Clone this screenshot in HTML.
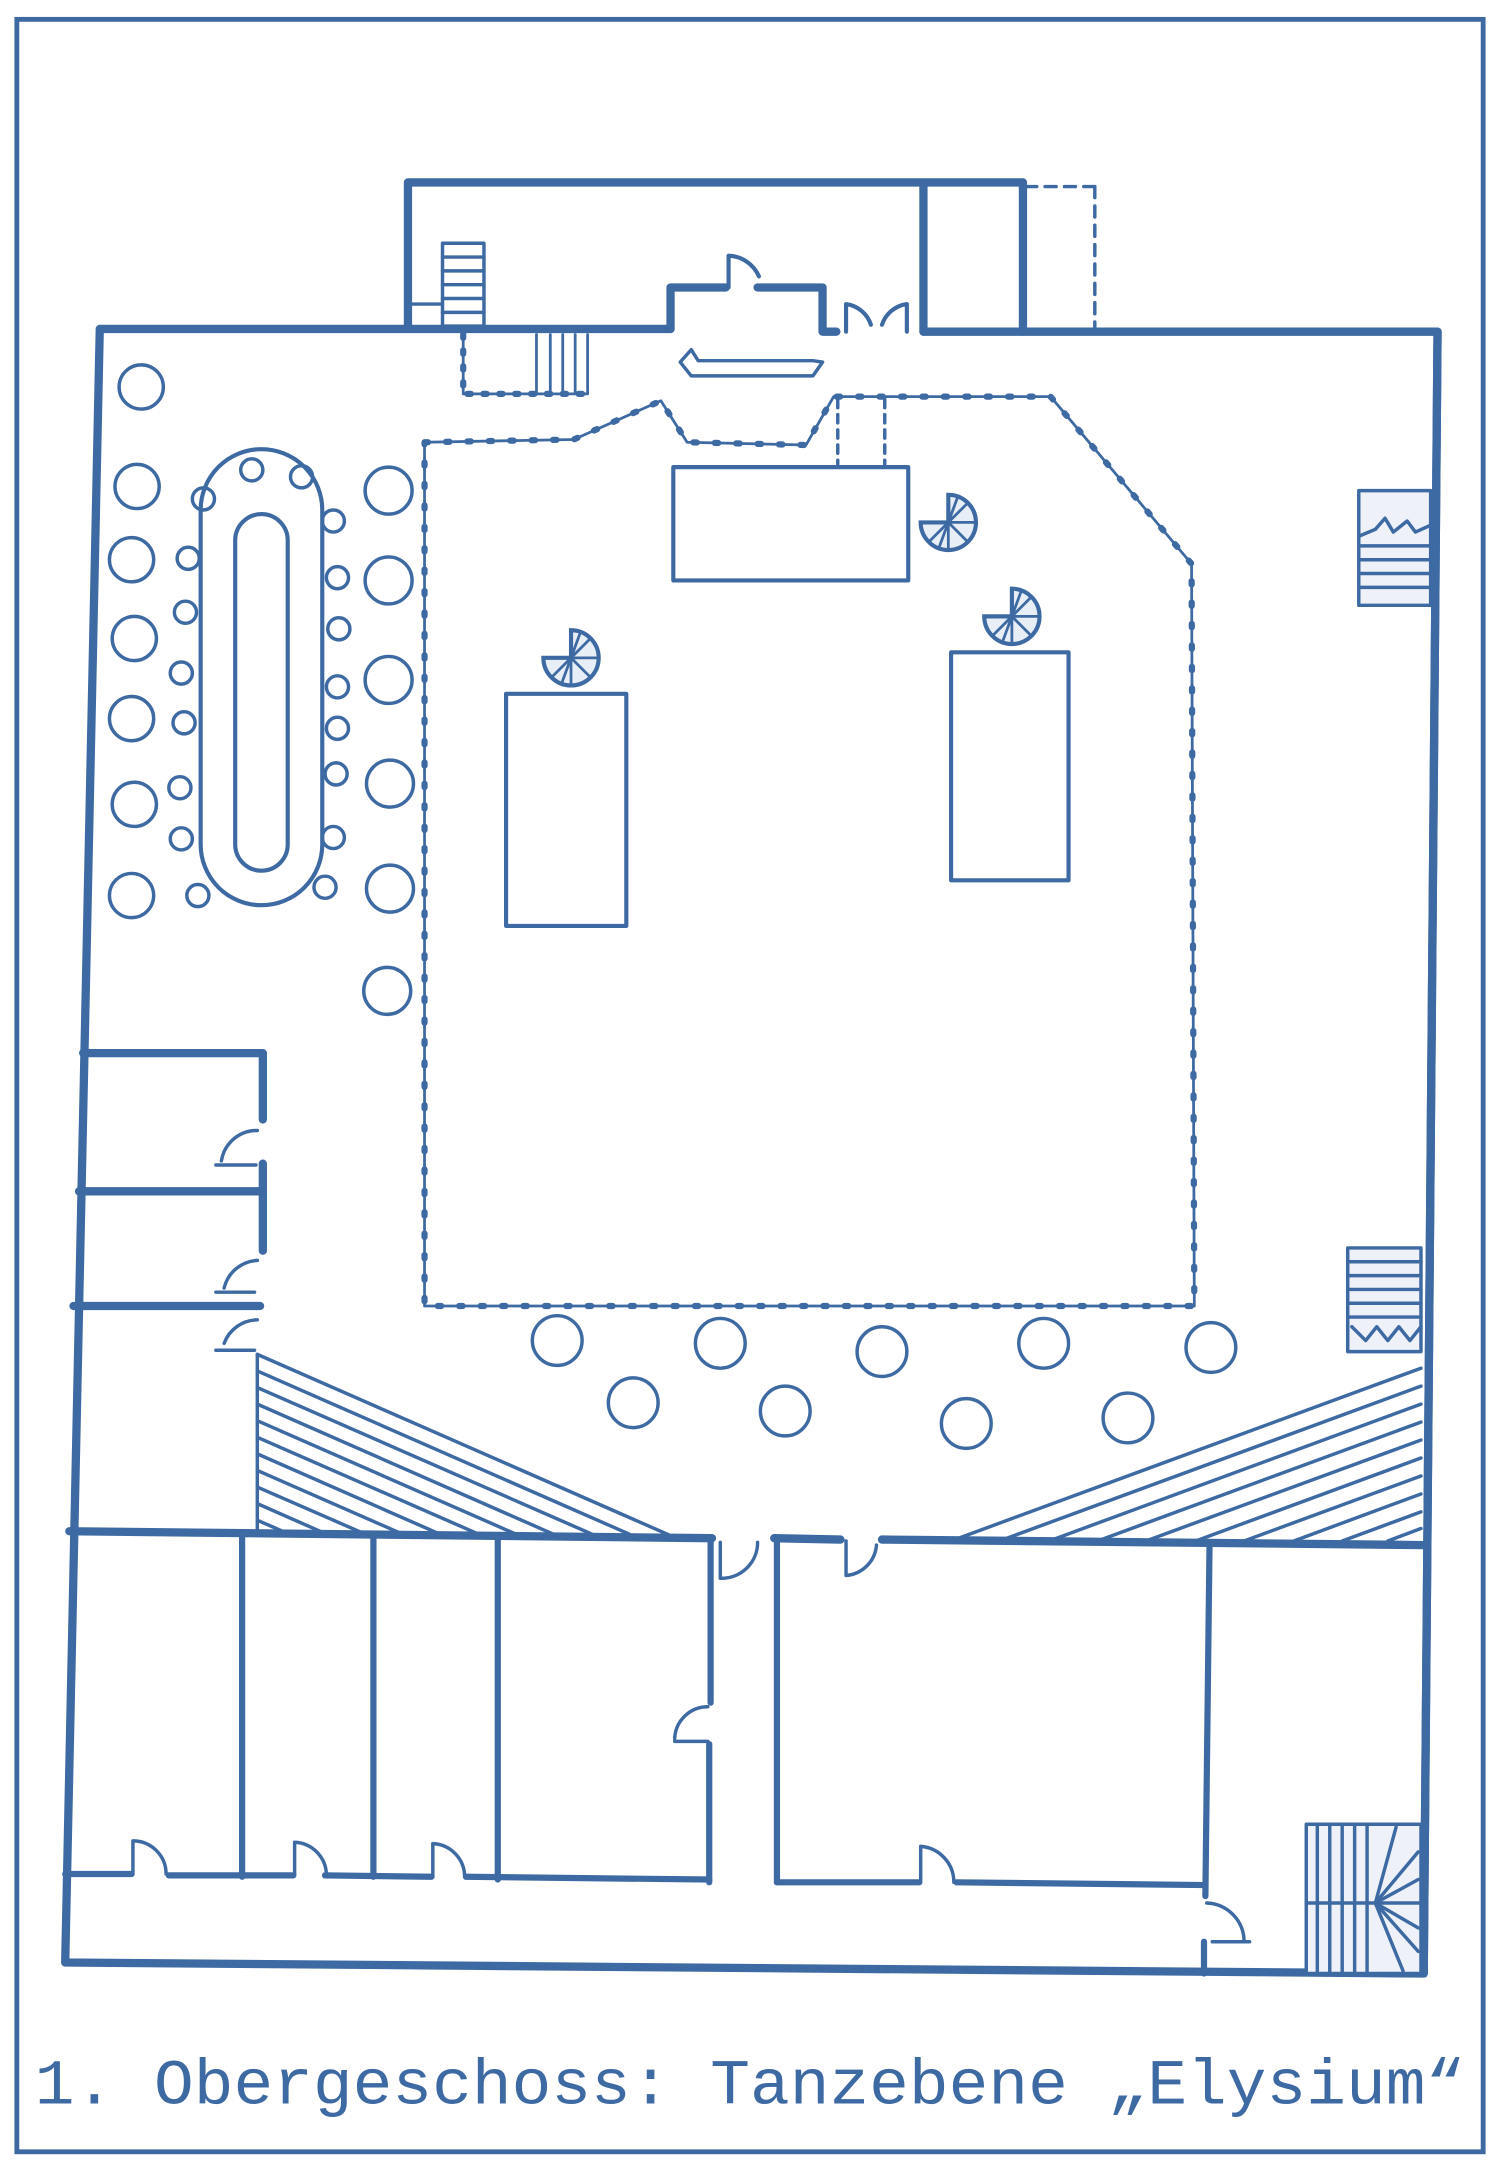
<!DOCTYPE html>
<html><head><meta charset="utf-8"><style>
html,body{margin:0;padding:0;background:#fff;}
svg{display:block;}
</style></head><body>
<svg width="1500" height="2167" viewBox="0 0 1085 1568" xmlns="http://www.w3.org/2000/svg">
<defs>
<g id="sp">
<path d="M0,0 L0,-20 A20,20 0 1 1 -20,0 Z" fill="#e8eef6" stroke="#3e6aa3" stroke-width="3"/>
<g stroke="#3e6aa3" stroke-width="2">
<line x1="0" y1="0" x2="14" y2="-14"/><line x1="0" y1="0" x2="20" y2="0"/><line x1="0" y1="0" x2="14" y2="14"/><line x1="0" y1="0" x2="0" y2="20"/><line x1="0" y1="0" x2="-14" y2="14"/><line x1="0" y1="0" x2="7" y2="-19"/><line x1="0" y1="0" x2="-7" y2="19"/>
</g></g>
</defs>
<rect x="0" y="0" width="1085" height="1568" fill="#fff"/>
<rect x="12" y="14" width="1061" height="1543" fill="none" stroke="#3e6aa3" stroke-width="3.5"/>
<g fill="none" stroke="#3e6aa3" stroke-linecap="round" stroke-linejoin="round">
<g stroke-width="6">
<polyline points="485,238 72,238 47,1420 1030,1428 1040,240 668,240"/>
<polyline points="485,238 485,208 525,208"/>
<polyline points="548,208 595,208 595,240 605,240"/>
<polyline points="295,238 295,132 740,132 740,240"/>
<line x1="668" y1="135" x2="668" y2="240"/>
<polyline points="60,762 190,762 190,810"/>
<line x1="190" y1="842" x2="190" y2="862"/>
<polyline points="57,862 190,862 190,905"/>
<line x1="53" y1="945" x2="188" y2="945"/>
<line x1="50" y1="1108" x2="515" y2="1113"/>
<line x1="560" y1="1113" x2="608" y2="1114"/>
<line x1="638" y1="1114" x2="1030" y2="1118"/>
</g>
<line x1="742" y1="135" x2="792" y2="135" stroke-width="2.5" stroke-dasharray="8,6"/>
<line x1="792" y1="135" x2="792" y2="240" stroke-width="2.5" stroke-dasharray="8,6"/>
<g stroke-width="3">
<path d="M612,240 V220 A22,22 0 0 1 630,235"/>
<path d="M656,240 V220 A22,22 0 0 0 638,235"/>
<path d="M527,208 V185 A25,25 0 0 1 549,200"/>
</g>
<g stroke-width="4.5">
<line x1="175" y1="1110" x2="175" y2="1358"/>
<line x1="270" y1="1110" x2="270" y2="1358"/>
<line x1="360" y1="1111" x2="360" y2="1360"/>
<line x1="514" y1="1113" x2="514" y2="1232"/>
<line x1="513" y1="1262" x2="513" y2="1362"/>
<line x1="562" y1="1115" x2="562" y2="1362"/>
<line x1="875" y1="1118" x2="872" y2="1372"/>
<line x1="871" y1="1405" x2="871" y2="1428"/>
<polyline points="47,1356 95,1356"/>
<polyline points="122,1357 212,1357"/>
<polyline points="235,1357 312,1358"/>
<polyline points="337,1358 513,1360"/>
<polyline points="562,1362 665,1362"/>
<polyline points="692,1362 872,1364"/>
</g>
<g stroke-width="2.5">
<path d="M96,1356 V1332 A24,24 0 0 1 120,1356"/>
<path d="M213,1357 V1333 A24,24 0 0 1 236,1357"/>
<path d="M313,1358 V1334 A24,24 0 0 1 336,1358"/>
<path d="M666,1362 V1336 A26,26 0 0 1 690,1362"/>
<path d="M873,1377 A28,28 0 0 1 900,1405 M877,1405 H904"/>
<path d="M512,1235 A24,24 0 0 0 488,1258 M488,1260 H512"/>
<path d="M521,1116 V1142 A26,26 0 0 0 548,1116"/>
<path d="M612,1115 V1140 A24,24 0 0 0 634,1118"/>
<path d="M186,818 A26,26 0 0 0 160,840 M156,843 H185"/>
<path d="M186,912 A26,26 0 0 0 162,932 M156,935 H184"/>
<path d="M186,955 A26,26 0 0 0 162,972 M156,977 H184"/>
</g>
<g stroke-width="2.5">
<polyline points="186,980 186,1110"/>
<line x1="186" y1="980" x2="487" y2="1112"/>
<line x1="186" y1="992" x2="455" y2="1110"/>
<line x1="186" y1="1004" x2="428" y2="1110"/>
<line x1="186" y1="1016" x2="400" y2="1110"/>
<line x1="186" y1="1028" x2="373" y2="1110"/>
<line x1="186" y1="1040" x2="346" y2="1110"/>
<line x1="186" y1="1052" x2="318" y2="1110"/>
<line x1="186" y1="1064" x2="291" y2="1110"/>
<line x1="186" y1="1076" x2="264" y2="1110"/>
<line x1="186" y1="1088" x2="236" y2="1110"/>
<line x1="186" y1="1100" x2="209" y2="1110"/>
<line x1="1028" y1="990" x2="688" y2="1115"/>
<line x1="1028" y1="1003" x2="723" y2="1115"/>
<line x1="1028" y1="1016" x2="759" y2="1115"/>
<line x1="1028" y1="1029" x2="794" y2="1115"/>
<line x1="1028" y1="1042" x2="829" y2="1115"/>
<line x1="1028" y1="1055" x2="865" y2="1115"/>
<line x1="1028" y1="1068" x2="900" y2="1115"/>
<line x1="1028" y1="1081" x2="936" y2="1115"/>
<line x1="1028" y1="1094" x2="971" y2="1115"/>
<line x1="1028" y1="1106" x2="1004" y2="1115"/>
</g>
<polygon points="307,320 415,318 478,290 497,320 583,322 603,287 760,287 862,408 864,945 307,945" stroke-width="2"/>
<polygon points="307,320 415,318 478,290 497,320 583,322 603,287 760,287 862,408 864,945 307,945" stroke-width="4.5" stroke-dasharray="2.5,13"/>
<line x1="606" y1="289" x2="606" y2="338" stroke-width="2.5" stroke-dasharray="6,5"/>
<line x1="640" y1="289" x2="640" y2="338" stroke-width="2.5" stroke-dasharray="6,5"/>
<polyline points="335,242 335,285 425,285 425,242" stroke-width="2"/>
<polyline points="335,242 335,285 425,285" stroke-width="4.5" stroke-dasharray="2.5,9"/>
<g stroke-width="2"><line x1="388" y1="242" x2="388" y2="285"/><line x1="398" y1="242" x2="398" y2="285"/><line x1="407" y1="242" x2="407" y2="285"/><line x1="416" y1="242" x2="416" y2="285"/></g>
<rect x="320" y="176" width="30" height="60" stroke-width="2.5"/>
<g stroke-width="2.5"><line x1="320" y1="186" x2="350" y2="186"/><line x1="320" y1="196" x2="350" y2="196"/><line x1="320" y1="206" x2="350" y2="206"/><line x1="320" y1="216" x2="350" y2="216"/><line x1="320" y1="226" x2="350" y2="226"/><line x1="298" y1="220" x2="320" y2="220"/></g>
<polygon points="492,262 500,253 505,261 588,261 595,262 588,272 500,272" stroke-width="2.5"/>
<g stroke-width="3">
<rect x="487" y="338" width="170" height="82"/>
<rect x="366" y="502" width="87" height="168"/>
<rect x="688" y="472" width="85" height="165"/>
<rect x="145" y="325" width="88" height="330" rx="44"/>
<rect x="170" y="372" width="38" height="258" rx="19"/>
</g>
<g stroke-width="2.5">
<circle cx="102" cy="280" r="16"/><circle cx="99" cy="352" r="16"/><circle cx="95" cy="405" r="16"/><circle cx="97" cy="462" r="16"/><circle cx="95" cy="520" r="16"/><circle cx="97" cy="582" r="16"/><circle cx="95" cy="648" r="16"/>
<circle cx="281" cy="355" r="17"/><circle cx="281" cy="420" r="17"/><circle cx="281" cy="492" r="17"/><circle cx="282" cy="567" r="17"/><circle cx="282" cy="643" r="17"/><circle cx="280" cy="717" r="17"/>
<circle cx="182" cy="340" r="8"/><circle cx="218" cy="345" r="8"/>
<circle cx="147" cy="361" r="8"/><circle cx="136" cy="404" r="8"/><circle cx="134" cy="443" r="8"/><circle cx="131" cy="487" r="8"/><circle cx="133" cy="523" r="8"/><circle cx="130" cy="570" r="8"/><circle cx="131" cy="607" r="8"/><circle cx="143" cy="648" r="8"/>
<circle cx="241" cy="377" r="8"/><circle cx="244" cy="418" r="8"/><circle cx="245" cy="455" r="8"/><circle cx="244" cy="497" r="8"/><circle cx="244" cy="527" r="8"/><circle cx="243" cy="560" r="8"/><circle cx="241" cy="606" r="8"/><circle cx="235" cy="642" r="8"/>
<ellipse cx="403" cy="970" rx="18" ry="18"/><ellipse cx="521" cy="972" rx="18" ry="18"/><ellipse cx="638" cy="978" rx="18" ry="18"/><ellipse cx="755" cy="972" rx="18" ry="18"/><ellipse cx="876" cy="975" rx="18" ry="18"/>
<ellipse cx="458" cy="1015" rx="18" ry="18"/><ellipse cx="568" cy="1021" rx="18" ry="18"/><ellipse cx="699" cy="1030" rx="18" ry="18"/><ellipse cx="816" cy="1026" rx="18" ry="18"/>
</g>
<g stroke-width="2.5">
<rect x="983" y="355" width="52" height="83" fill="#eef2f8"/>
<polyline points="983,388 995,383 1002,375 1008,385 1018,377 1024,385 1035,380"/>
<line x1="983" y1="395" x2="1035" y2="395"/><line x1="983" y1="405" x2="1035" y2="405"/><line x1="983" y1="415" x2="1035" y2="415"/><line x1="983" y1="425" x2="1035" y2="425"/>
<rect x="975" y="903" width="53" height="75" fill="#eef2f8"/>
<line x1="975" y1="913" x2="1028" y2="913"/><line x1="975" y1="923" x2="1028" y2="923"/><line x1="975" y1="933" x2="1028" y2="933"/><line x1="975" y1="943" x2="1028" y2="943"/><line x1="975" y1="953" x2="1028" y2="953"/>
<polyline points="978,960 988,970 996,960 1004,970 1012,960 1020,970 1028,960"/>
<rect x="945" y="1320" width="83" height="108" fill="#eef2f8"/>
<line x1="953" y1="1320" x2="953" y2="1428"/><line x1="962" y1="1320" x2="962" y2="1428"/><line x1="971" y1="1320" x2="971" y2="1428"/><line x1="980" y1="1320" x2="980" y2="1428"/><line x1="989" y1="1320" x2="989" y2="1428"/>
<line x1="945" y1="1377" x2="1028" y2="1377"/>
<line x1="995" y1="1377" x2="1010" y2="1322"/><line x1="995" y1="1377" x2="1026" y2="1340"/><line x1="995" y1="1377" x2="1026" y2="1360"/><line x1="995" y1="1377" x2="1026" y2="1395"/><line x1="995" y1="1377" x2="1026" y2="1412"/><line x1="995" y1="1377" x2="1015" y2="1426"/>
</g>
<g stroke-width="6"><line x1="1040" y1="240" x2="1030" y2="1428"/></g>
</g>
<use href="#sp" x="686" y="378"/>
<use href="#sp" x="732" y="446"/>
<use href="#sp" x="413" y="476"/>
<text x="25" y="1522" font-family="'Liberation Mono', monospace" font-size="46" fill="#3e6aa3" textLength="1035" lengthAdjust="spacingAndGlyphs">1. Obergeschoss: Tanzebene „Elysium“</text>
</svg>
</body></html>
